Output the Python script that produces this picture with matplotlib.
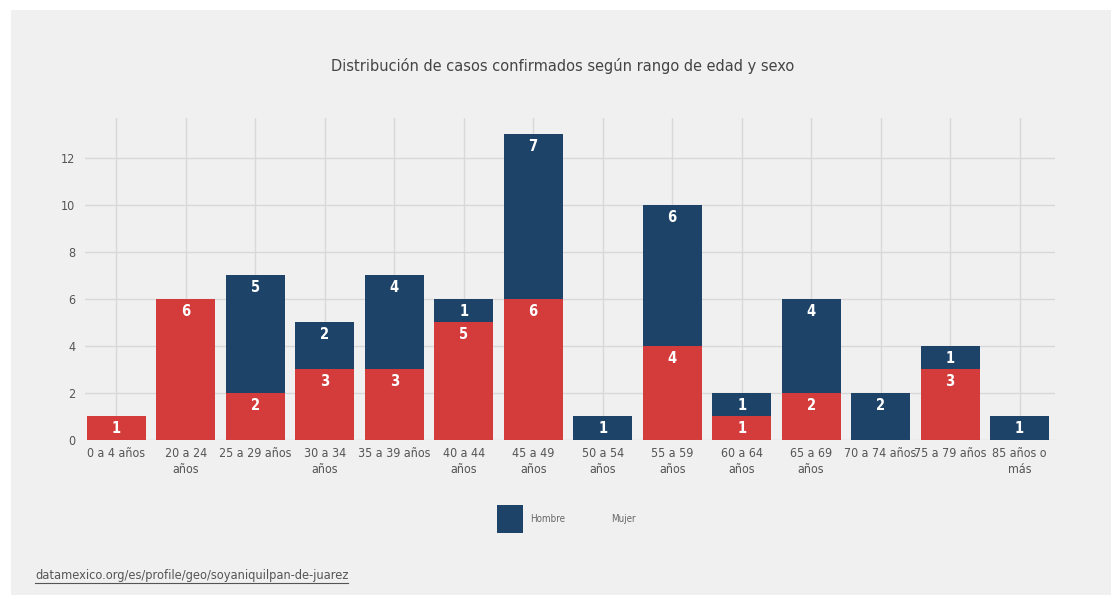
import matplotlib
matplotlib.use("Agg")
import matplotlib.pyplot as plt
from matplotlib import font_manager
from matplotlib.patches import Rectangle
from matplotlib.lines import Line2D
import numpy as np

# data
categories = ["0 a 4 años", "20 a 24\naños", "25 a 29 años", "30 a 34\naños",
              "35 a 39 años", "40 a 44\naños", "45 a 49\naños", "50 a 54\naños",
              "55 a 59\naños", "60 a 64\naños", "65 a 69\naños", "70 a 74 años",
              "75 a 79 años", "85 años o\nmás"]
mujer = [1, 6, 2, 3, 3, 5, 6, 0, 4, 1, 2, 0, 3, 0]
hombre = [0, 0, 5, 2, 4, 1, 7, 1, 6, 1, 4, 2, 1, 1]
yticks = [0, 2, 4, 6, 8, 10, 12]

RED = "#d43b3b"
NAVY = "#1d4369"
BG = "#f0f0f0"
TXT = "#555555"

# pick a condensed face if one is installed
condensed = [f for f in font_manager.fontManager.ttflist
             if f.stretch in ("condensed", "semi-condensed") or "Narrow" in f.name
             or "Condensed" in f.name]
if condensed:
    plt.rcParams['font.family'] = [condensed[0].name, 'DejaVu Sans']
    plt.rcParams['font.stretch'] = condensed[0].stretch
    narrow = True
else:
    plt.rcParams['font.family'] = ['DejaVu Sans']
    narrow = False
k = 1.0 if narrow else 0.85

W, H = 1111, 595
fig = plt.figure(figsize=(W / 100, H / 100), dpi=100)
fig.patch.set_facecolor("white")
# grey panel behind the chart
fig.patches.append(Rectangle((11 / W, 0), 1 - 11 / W, 1 - 10 / H,
                             transform=fig.transFigure, facecolor=BG,
                             edgecolor="none", zorder=-10))

ax = fig.add_axes([85 / W, 1 - 440 / H, (1055 - 85) / W, (440 - 118) / H])
ax.set_facecolor(BG)

x = np.arange(len(categories))
bw = 0.85
ax.bar(x, mujer, width=bw, color=RED, zorder=3)
ax.bar(x, hombre, width=bw, bottom=mujer, color=NAVY, zorder=3)

# value labels near the top of each segment
for i in range(len(categories)):
    if mujer[i] > 0:
        ax.text(x[i], mujer[i] - 0.52, str(mujer[i]), ha="center", va="center",
                color="white", fontsize=10.5 * k, fontweight="bold", zorder=4)
    if hombre[i] > 0:
        top = mujer[i] + hombre[i]
        ax.text(x[i], top - 0.52, str(hombre[i]), ha="center", va="center",
                color="white", fontsize=10.5 * k, fontweight="bold", zorder=4)

ax.set_xlim(-0.45, 13.51)
ax.set_ylim(0, 13.7)
ax.set_yticks(yticks)
ax.set_xticks(x)
ax.set_xticklabels(categories, fontsize=8.9 * k, color=TXT, linespacing=1.3)
ax.tick_params(axis="y", labelsize=9 * k, labelcolor=TXT, length=0, pad=7)
ax.tick_params(axis="x", length=0, pad=5)
ax.grid(True, color="#d8d8d8", linewidth=1, zorder=0)
for s in ax.spines.values():
    s.set_visible(False)

fig.text(563 / W, 1 - 66 / H, "Distribución de casos confirmados según rango de edad y sexo",
         ha="center", va="center", fontsize=11.7 * k, color="#444444")

# legend
fig.patches.append(Rectangle((497 / W, 1 - 533 / H), 26 / W, 28 / H,
                             transform=fig.transFigure, facecolor=NAVY,
                             edgecolor="none"))
fig.text(530 / W, 1 - 519 / H, "Hombre", ha="left", va="center", fontsize=7, color="#666666")
fig.text(611 / W, 1 - 519 / H, "Mujer", ha="left", va="center", fontsize=7, color="#666666")

# source
src = fig.text(35 / W, 1 - 575 / H, "datamexico.org/es/profile/geo/soyaniquilpan-de-juarez",
               ha="left", va="center", fontsize=9.2 * k, color=TXT)
fig.canvas.draw()
bb = src.get_window_extent().transformed(fig.transFigure.inverted())
fig.add_artist(Line2D([bb.x0, bb.x1], [bb.y0 - 0.002, bb.y0 - 0.002],
                      transform=fig.transFigure, color=TXT, linewidth=0.8))

fig.savefig("out.png", dpi=100, facecolor=fig.get_facecolor())
